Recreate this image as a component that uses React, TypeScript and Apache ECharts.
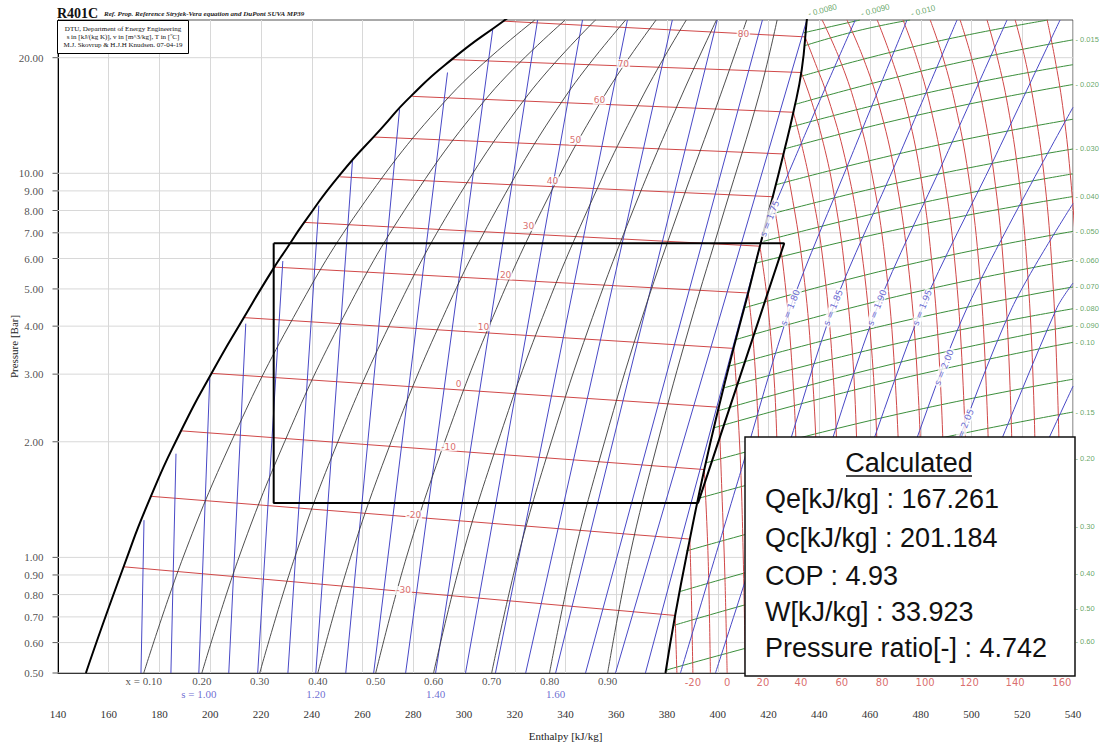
import React, { useEffect, useRef } from "react";
import * as echarts from "echarts";

// ---- Saturation lines [h kJ/kg, p bar] ----
const satLiquid: number[][] = [
  [151.0, 0.5], [166.0, 0.951], [176.6, 1.442], [188.3, 2.123], [200.3, 2.997], [213.2, 4.207],
  [225.0, 5.665], [230.2, 6.38], [237.6, 7.54], [251.4, 9.97], [267.2, 13.03], [279.0, 15.86],
  [295.1, 19.77], [315.6, 24.93], [321.5, 26.5],
];
const satVapor: number[][] = [
  [379.4, 0.5], [383.2, 0.706], [389.0, 1.116], [394.7, 1.693], [400.4, 2.46], [406.3, 3.52],
  [412.2, 4.94], [416.7, 6.5], [421.8, 8.75], [426.1, 11.37], [429.8, 14.42], [433.1, 18.62],
  [435.1, 25.07], [435.5, 26.3],
];

// ---- Constant quality lines ----
const qualityValues = [0.1, 0.2, 0.3, 0.4, 0.5, 0.6, 0.7, 0.8, 0.9];
const qualityPressures = [0.5, 1, 2, 4, 8, 16, 25.07];
const qualityEnthalpy: number[][] = [
  [173.8, 189.3, 208.3, 230.9, 258.5, 294.8, 327.9],
  [196.7, 211.3, 229.3, 250.6, 276.5, 310.0, 339.9],
  [219.5, 233.3, 250.3, 270.4, 294.5, 325.2, 351.8],
  [242.4, 255.3, 271.3, 290.1, 312.6, 340.4, 363.7],
  [265.2, 277.3, 292.4, 309.9, 330.6, 355.5, 375.7],
  [288.0, 299.2, 313.4, 329.6, 348.6, 370.7, 387.6],
  [310.9, 321.2, 334.4, 349.4, 366.6, 385.9, 399.5],
  [333.7, 343.2, 355.4, 369.1, 384.6, 401.1, 411.4],
  [356.6, 365.2, 376.4, 388.9, 402.6, 416.3, 423.4],
];

// ---- Isotherms inside the dome (bubble end -> dew end) ----
const isothermTemps = [-30, -20, -10, 0, 10, 20, 30, 40, 50, 60, 70, 80];
const isothermTwoPhase: number[][][] = [
  [[166.0, 0.945], [383.2, 0.706]],
  [[176.6, 1.442], [389.0, 1.116]],
  [[188.3, 2.136], [394.7, 1.693]],
  [[200.3, 3.015], [400.4, 2.46]],
  [[213.2, 4.21], [406.3, 3.5]],
  [[225.0, 5.7], [412.0, 4.88]],
  [[237.2, 7.45], [416.6, 6.46]],
  [[251.2, 9.79], [421.6, 8.69]],
  [[264.4, 12.43], [425.9, 11.23]],
  [[279.6, 15.86], [429.8, 14.42]],
  [[295.1, 19.77], [432.9, 18.3]],
  [[315.6, 24.9], [434.4, 22.66]],
];
const isothermLabelPos: number[][] = [
  [276.2, 0.82], [280.2, 1.29], [293.9, 1.942], [297.9, 2.825], [307.7, 3.99], [316.4, 5.43],
  [325.4, 7.27], [334.9, 9.56], [343.9, 12.2], [353.4, 15.5], [362.8, 19.3], [410.1, 23.1],
];

// ---- Isotherms in the superheated vapour ----
const superTemps = [-30, -20, -10, 0, 10, 20, 30, 40, 50, 60, 70, 80, 90, 100, 110, 120, 130, 140, 150, 160, 170];
const superIsotherms: number[][][] = [
  [[383.2, 0.706], [383.9, 0.5]],
  [[389.0, 1.116], [389.6, 0.8], [390.2, 0.5]],
  [[394.7, 1.693], [396.2, 1.0], [397.1, 0.5]],
  [[400.4, 2.46], [401.6, 1.5], [402.8, 0.9], [403.7, 0.5]],
  [[406.3, 3.5], [407.8, 2.5], [409.5, 1.4], [410.9, 0.5]],
  [[412.0, 4.88], [414.2, 3.5], [416.1, 2.0], [417.8, 0.5]],
  [[416.6, 6.46], [419.8, 4.5], [423.0, 2.3], [425.4, 0.5]],
  [[421.6, 8.69], [425.4, 6.0], [428.8, 3.5], [431.2, 1.7], [432.8, 0.5]],
  [[425.9, 11.23], [428.9, 9.0], [433.1, 6.0], [436.6, 3.5], [439.4, 1.5], [440.8, 0.5]],
  [[429.8, 14.42], [432.9, 12.0], [436.3, 9.5], [440.7, 6.5], [444.8, 3.5], [447.5, 1.5], [448.9, 0.5]],
  [[432.9, 18.3], [436.4, 15.8], [440.9, 12.5], [445.6, 9.0], [450.2, 5.5], [454.2, 2.5], [456.9, 0.5]],
  [[434.4, 22.66], [437.6, 20.0], [443.5, 15.7], [450.1, 11.0], [455.7, 7.0], [460.6, 3.5], [463.4, 1.5], [464.8, 0.5]],
  [[441.1, 25.1], [447.8, 20], [454.3, 15], [460.7, 10], [465.9, 6], [469.8, 3], [472.2, 1.2], [473.1, 0.5]],
  [[450.9, 25.1], [457.3, 20], [463.6, 15], [469.8, 10], [474.8, 6], [478.6, 3], [480.8, 1.2], [481.7, 0.5]],
  [[462.8, 25.1], [468.4, 20], [474.2, 15], [479.8, 10], [484.2, 6], [487.6, 3], [489.6, 1.2], [490.4, 0.5]],
  [[473.0, 25.1], [478.4, 20], [483.7, 15], [489.0, 10], [493.3, 6], [496.5, 3], [498.4, 1.2], [499.1, 0.5]],
  [[483.7, 25.1], [488.8, 20], [493.7, 15], [498.7, 10], [502.7, 6], [505.6, 3], [507.4, 1.2], [508.1, 0.5]],
  [[495.5, 25.1], [500.0, 20], [504.4, 15], [508.8, 10], [512.4, 6], [515.0, 3], [516.6, 1.2], [517.2, 0.5]],
  [[506.1, 25.1], [510.2, 20], [514.3, 15], [518.4, 10], [521.7, 6], [524.2, 3], [525.6, 1.2], [526.2, 0.5]],
  [[517.2, 25.1], [521.0, 20], [524.7, 15], [528.5, 10], [531.5, 6], [533.7, 3], [535.1, 1.2], [535.6, 0.5]],
  [[529.8, 25.1], [532.8, 20], [535.9, 15], [538.9, 10], [541.3, 6], [543.2, 3], [544.3, 1.2], [544.7, 0.5]],
];

// ---- Isentropes inside the dome ----
const isentropeTwoPhaseValues = [0.9, 0.95, 1.0, 1.05, 1.1, 1.15, 1.2, 1.25, 1.3, 1.35, 1.4, 1.45, 1.5, 1.55, 1.6, 1.65, 1.7, 1.75];
const isentropeTwoPhase: number[][][] = [
  [[173.9, 1.25], [172.7, 0.5]],
  [[186.5, 1.862], [184.5, 0.5]],
  [[199.8, 2.927], [195.5, 0.5]],
  [[214.0, 4.06], [207.3, 0.5]],
  [[228.6, 5.91], [218.7, 0.5]],
  [[242.8, 8.24], [230.6, 0.5]],
  [[256.1, 10.9], [241.6, 0.5]],
  [[274.6, 14.68], [253.4, 0.5]],
  [[293.5, 18.3], [264.4, 0.5]],
  [[311.3, 23.63], [277.0, 0.5]],
  [[329.0, 25.07], [288.8, 0.5]],
  [[346.7, 25.07], [300.6, 0.5]],
  [[364.4, 25.07], [312.4, 0.5]],
  [[382.1, 25.07], [324.3, 0.5]],
  [[399.8, 25.07], [336.1, 0.5]],
  [[417.6, 25.07], [347.9, 0.5]],
  [[435.1, 25.07], [359.7, 0.5]],
  [[418.3, 7.1], [371.5, 0.5]],
];

// ---- Isentropes in the superheated vapour ----
const superIsentropes: number[][][] = [
  [[418.3, 7.1], [435.3, 13.03], [454.2, 25.07]],
  [[385.3, 0.5], [409.3, 1.693], [428.6, 4.47], [452.2, 10.9], [474.6, 25.07]],
  [[399.1, 0.5], [425.0, 1.693], [445.5, 4.47], [470.9, 10.9], [494.3, 25.07]],
  [[413.6, 0.5], [441.2, 1.693], [462.8, 4.47], [489.4, 10.9], [514.0, 25.07]],
  [[428.6, 0.5], [457.3, 1.693], [480.6, 4.47], [508.9, 10.9], [534.9, 25.07]],
  [[443.1, 0.5], [473.9, 1.693], [498.3, 4.47], [540.0, 14.85]],
  [[458.1, 0.5], [490.4, 1.693], [516.0, 4.47], [540.0, 8.34]],
  [[472.7, 0.5], [506.9, 1.693], [533.7, 4.47], [540.0, 5.18]],
  [[487.6, 0.5], [540.0, 2.79]],
  [[503.4, 0.5], [540.0, 1.586]],
];
const superIsentropeLabelS = ["1.75", "1.80", "1.85", "1.90", "1.95", "2.00", "2.05"];
const superIsentropeLabelPos: number[][] = [
  [420.5, 7.63], [428.6, 4.47], [445.5, 4.47], [462.8, 4.47], [480.6, 4.47], [489.2, 3.125], [497.1, 2.187],
];

// ---- Isochores (specific volume, m^3/kg) ----
const isochoreLabels = ["", "", "", "0.015", "", "0.020", "", "0.030", "", "0.040", "0.050", "0.060", "0.070",
  "0.080", "0.090", "0.10", "", "0.15", "0.20", "", "0.30", "0.40", "0.50", "0.60"];
const isochoreLines: number[][][] = [
  [[433.7, 23.21], [456.1, 25.07]],
  [[434.1, 21.48], [455.0, 23.49], [475.8, 25.07]],
  [[432.5, 17.86], [481.3, 21.67], [530.2, 25.07]],
  [[430.6, 15.12], [485.3, 18.79], [540.0, 22.26]],
  [[428.6, 13.19], [484.3, 16.29], [540.0, 19.18]],
  [[426.2, 11.57], [483.1, 14.38], [540.0, 17.03]],
  [[423.1, 9.34], [481.5, 11.64], [540.0, 13.83]],
  [[420.3, 7.81], [480.2, 9.74], [540.0, 11.57]],
  [[418.0, 6.65], [479.0, 8.34], [540.0, 9.97]],
  [[415.2, 5.84], [477.6, 7.3], [540.0, 8.7]],
  [[410.8, 4.47], [475.4, 5.79], [540.0, 7.06]],
  [[407.1, 3.69], [473.5, 4.83], [540.0, 5.94]],
  [[404.3, 3.145], [472.2, 4.11], [540.0, 5.06]],
  [[402.1, 2.758], [471.1, 3.61], [540.0, 4.44]],
  [[399.9, 2.405], [470.0, 3.2], [540.0, 4.01]],
  [[398.5, 2.174], [469.3, 2.89], [540.0, 3.63]],
  [[395.7, 1.765], [467.8, 2.334], [540.0, 2.91]],
  [[392.4, 1.424], [466.2, 1.901], [540.0, 2.39]],
  [[387.6, 1.039], [463.8, 1.412], [540.0, 1.81]],
  [[384.9, 0.814], [462.4, 1.123], [540.0, 1.459]],
  [[382.6, 0.665], [461.3, 0.923], [540.0, 1.206]],
  [[379.8, 0.509], [459.9, 0.7], [540.0, 0.906]],
  [[414.8, 0.5], [477.4, 0.625], [540.0, 0.736]],
  [[456.1, 0.5], [498.1, 0.567], [540.0, 0.605]],
];
const topIsochoreLabels = ["0.0080", "0.0090", "0.010"];
const topIsochoreH = [435.3, 456.1, 475.8];

// ---- Axis ticks ----
const pressureTicks = [0.5, 0.6, 0.7, 0.8, 0.9, 1, 2, 3, 4, 5, 6, 7, 8, 9, 10, 20];

// ---- Refrigeration cycle results ----
const cycleH3 = 225.0;
const evapPressure = 1.386;
const qe = 167.261;
const qc = 201.184;
const cop = 4.93;
const work = 33.923;
const pressureRatio = 4.742;

const RED = "#d04848";
const BLUE = "#4848c6";
const GREEN = "#3b8e3b";
const DARK = "#3a3a3a";
const SERIF = '"Liberation Serif", "DejaVu Serif", serif';
const SANS = '"DejaVu Sans", "Liberation Sans", sans-serif';
const ARIAL = '"Liberation Sans", Arial, sans-serif';

function curve(data: number[][], color: string, width: number, smooth: boolean | number, z: number) {
  return {
    type: "line",
    data,
    symbol: "none",
    showSymbol: false,
    smooth,
    silent: true,
    z,
    lineStyle: { color, width },
  };
}

function textSeries(items: { name: string; value: number[] }[], label: any, z = 30) {
  return {
    type: "scatter",
    data: items,
    symbol: "circle",
    symbolSize: 1,
    clip: false,
    silent: true,
    z,
    itemStyle: { color: "rgba(0,0,0,0)" },
    label: { show: true, formatter: (p: any) => p.name, ...label },
  };
}

export default function App() {
  const ref = useRef<HTMLDivElement>(null);

  useEffect(() => {
    if (!ref.current) return;
    const chart = echarts.init(ref.current, undefined, { renderer: "svg" });

    const h1 = cycleH3 + qe;
    const h2 = h1 + work;
    const condPressure = evapPressure * pressureRatio;
    const cycle = [
      [cycleH3, condPressure], [cycleH3, evapPressure], [h1, evapPressure], [h2, condPressure], [cycleH3, condPressure],
    ];

    const series: any[] = [];
    pressureTicks.forEach((p) => series.push(curve([[140, p], [540, p]], "#d8d8d8", 1, false, 1)));

    isochoreLines.forEach((l) => series.push(curve(l, GREEN, 1, true, 3)));
    superIsotherms.forEach((l) => series.push(curve(l, RED, 1, 0.4, 4)));
    isothermTwoPhase.forEach((l) => series.push(curve(l, RED, 1, false, 4)));
    isentropeTwoPhase.forEach((l) => series.push(curve(l, BLUE, 1, false, 5)));
    superIsentropes.forEach((l) => series.push(curve(l, BLUE, 1, 0.3, 5)));
    qualityValues.forEach((_, i) =>
      series.push(curve(qualityEnthalpy[i].map((h, j) => [h, qualityPressures[j]]), DARK, 0.9, 0.4, 6))
    );
    series.push(curve(satLiquid, "#000", 2, 0.6, 8));
    series.push(curve(satVapor, "#000", 2, 0.5, 8));
    series.push(curve(cycle, "#000", 2, false, 9));

    // in-chart labels
    series.push(
      textSeries(
        isothermLabelPos.map((v, i) => ({ name: String(isothermTemps[i]), value: v })),
        { position: "inside", color: RED, fontSize: 9, fontFamily: SANS, backgroundColor: "#fff", padding: [0, 1] }
      )
    );
    series.push(
      textSeries(
        superIsentropeLabelPos.map((v, i) => ({ name: "s = " + superIsentropeLabelS[i], value: v })),
        { position: "inside", color: BLUE, fontSize: 9, fontFamily: SANS, backgroundColor: "#fff", padding: [0, 1], rotate: 68 }
      )
    );

    // bottom rows: quality, temperature, entropy
    series.push(
      textSeries(
        qualityValues.map((q, i) => ({ name: (i === 0 ? "x = " : "") + q.toFixed(2), value: [qualityEnthalpy[i][0], 0.5] })),
        { position: "bottom", distance: 2, color: "#222", fontSize: 11, fontFamily: SERIF }
      )
    );
    series.push(
      textSeries(
        superTemps
          .map((t, i) => ({ t, i }))
          .filter(({ t }) => t >= -20 && t <= 160 && t % 20 === 0)
          .map(({ t, i }) => {
            const line = superIsotherms[i];
            return { name: String(t), value: line[line.length - 1] };
          }),
        { position: "bottom", distance: 4, color: RED, fontSize: 10, fontFamily: SANS }
      )
    );
    series.push(
      textSeries(
        isentropeTwoPhaseValues
          .map((s, i) => ({ s, i }))
          .filter(({ s }) => [1.0, 1.2, 1.4, 1.6].some((v) => Math.abs(v - s) < 1e-6))
          .map(({ s, i }) => ({
            name: (s === 1.0 ? "s = " : "") + s.toFixed(2),
            value: isentropeTwoPhase[i][isentropeTwoPhase[i].length - 1],
          })),
        { position: "bottom", distance: 15, color: BLUE, fontSize: 11, fontFamily: SERIF }
      )
    );

    // pressure tick labels and tick marks on the left axis
    series.push({
      ...textSeries(
        pressureTicks.map((p) => ({ name: p.toFixed(2), value: [140, p] })),
        { position: "left", distance: 9, color: "#222", fontSize: 11, fontFamily: SERIF }
      ),
      symbol: "rect",
      symbolSize: [5, 1],
      symbolOffset: [-3, 0],
      itemStyle: { color: "#333" },
    });

    // isochore values on the right and top edges
    series.push(
      textSeries(
        isochoreLines
          .map((l, i) => ({ l, i }))
          .filter(({ i }) => isochoreLabels[i] !== "")
          .map(({ l, i }) => ({ name: "- " + isochoreLabels[i], value: l[l.length - 1] })),
        { position: "right", distance: 2, color: GREEN, fontSize: 7.5, fontFamily: ARIAL }
      )
    );
    series.push(
      textSeries(
        topIsochoreLabels.map((t, i) => ({ name: "- " + t, value: [topIsochoreH[i], 25.07] })),
        { position: "right", distance: 2, color: GREEN, fontSize: 8, fontFamily: ARIAL, rotate: 15, offset: [0, -6] }
      )
    );

    const resultLines = [
      `Qe[kJ/kg] : ${qe.toFixed(3)}`,
      `Qc[kJ/kg] : ${qc.toFixed(3)}`,
      `COP : ${cop.toFixed(2)}`,
      `W[kJ/kg] : ${work.toFixed(3)}`,
      `Pressure ratio[-] : ${pressureRatio.toFixed(3)}`,
    ];
    const resultY = [499, 538, 576, 612, 648];

    const option: any = {
      animation: false,
      grid: {
        left: 57, right: 31, top: 20, bottom: 68, show: true,
        borderColor: "#555", borderWidth: 1, backgroundColor: "#fff",
      },
      xAxis: {
        type: "value", min: 140, max: 540, interval: 20,
        name: "Enthalpy [kJ/kg]", nameLocation: "middle", nameGap: 57,
        nameTextStyle: { fontFamily: SERIF, fontSize: 11, color: "#222" },
        axisLine: { show: true, onZero: false, lineStyle: { color: "#000", width: 1 } },
        axisTick: { show: false },
        axisLabel: { margin: 35, color: "#333", fontFamily: SERIF, fontSize: 11 },
        splitLine: { show: true, lineStyle: { color: "#d8d8d8", width: 1 } },
      },
      yAxis: {
        type: "log", logBase: 10, min: 0.5, max: 25.07,
        name: "Pressure [Bar]", nameLocation: "middle", nameGap: 39, nameRotate: 90,
        nameTextStyle: { fontFamily: SERIF, fontSize: 11, color: "#222" },
        axisLine: { show: true, lineStyle: { color: "#000", width: 1 } },
        axisTick: { show: false },
        axisLabel: { show: false },
        splitLine: { show: false },
      },
      series,
      graphic: [
        {
          type: "text", x: 57, y: 13, z: 100,
          style: { text: "R401C", font: `bold 14px ${SERIF}`, fill: "#111", textVerticalAlign: "middle" },
        },
        {
          type: "text", x: 104, y: 14, z: 100,
          style: {
            text: "Ref. Prop. Reference Stryjek-Vera equation and DuPont SUVA MP39",
            font: `italic bold 7px ${SERIF}`, fill: "#222", textVerticalAlign: "middle",
          },
        },
        {
          type: "rect", z: 100, shape: { x: 57.5, y: 20.5, width: 131, height: 33 },
          style: { fill: "#fff", stroke: "#000", lineWidth: 1 },
        },
        ...[
          "DTU, Department of Energy Engineering",
          "s in [kJ/(kg K)], v in [m^3/kg], T in [ºC]",
          "M.J. Skovrup & H.J.H Knudsen. 07-04-19",
        ].map((t, i) => ({
          type: "text", x: 123, y: 28.5 + i * 8, z: 101,
          style: { text: t, font: `7px ${SERIF}`, fill: "#111", textAlign: "center", textVerticalAlign: "middle" },
        })),
        {
          type: "rect", z: 100, shape: { x: 745, y: 437, width: 330, height: 239 },
          style: { fill: "#fff", stroke: "#111", lineWidth: 1.5 },
        },
        {
          type: "text", x: 909, y: 463, z: 101,
          style: { text: "Calculated", font: `27px ${ARIAL}`, fill: "#111", textAlign: "center", textVerticalAlign: "middle" },
        },
        {
          type: "line", z: 101, shape: { x1: 846, y1: 476, x2: 972, y2: 476 },
          style: { stroke: "#111", lineWidth: 1.5 },
        },
        ...resultLines.map((t, i) => ({
          type: "text", x: 765, y: resultY[i], z: 101,
          style: { text: t, font: `27px ${ARIAL}`, fill: "#111", textVerticalAlign: "middle" },
        })),
      ],
    };

    chart.setOption(option);
    return () => chart.dispose();
  }, []);

  return (
    <div
      ref={ref}
      style={{ position: "fixed", left: 0, top: 0, width: 1104, height: 746, background: "#fff" }}
    />
  );
}
